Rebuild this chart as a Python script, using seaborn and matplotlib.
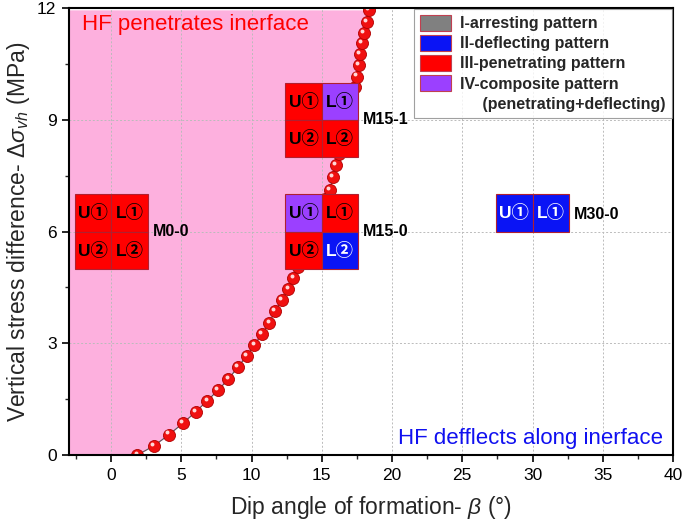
import matplotlib
matplotlib.use("Agg")
import matplotlib.pyplot as plt
import matplotlib.transforms as mtransforms
from matplotlib.patches import Patch
import seaborn as sns
import pandas as pd

# ---------------- data ----------------
beta = [1.87, 3.06, 4.13, 5.10, 6.02, 6.85, 7.61, 8.35, 9.00, 9.65, 10.20, 10.72,
        11.27, 11.67, 12.15, 12.62, 12.98, 13.30, 13.62, 13.93, 14.24, 14.55, 14.88,
        15.22, 15.55, 15.80, 15.98, 16.20, 16.40, 16.60, 16.80, 16.98, 17.15, 17.33,
        17.50, 17.66, 17.73, 17.86, 17.98, 18.20, 18.33]
stress = [0.00, 0.25, 0.55, 0.85, 1.16, 1.46, 1.74, 2.04, 2.35, 2.66, 2.95, 3.25,
          3.55, 3.87, 4.16, 4.46, 4.76, 5.06, 5.36, 5.66, 5.96, 6.26, 6.56,
          6.86, 7.11, 7.47, 7.78, 8.08, 8.38, 8.68, 8.98, 9.28, 9.58, 9.88,
          10.16, 10.47, 10.77, 11.05, 11.32, 11.63, 11.95]

# experiment cells: sample, dip angle, stress level (row bottom), cell label, pattern, side
cell_sample = ["M0-0", "M0-0", "M0-0", "M0-0",
               "M15-1", "M15-1", "M15-1", "M15-1",
               "M15-0", "M15-0", "M15-0", "M15-0",
               "M30-0", "M30-0"]
cell_dip = [0, 0, 0, 0, 15, 15, 15, 15, 15, 15, 15, 15, 30, 30]
cell_side = ["U", "L", "U", "L", "U", "L", "U", "L", "U", "L", "U", "L", "U", "L"]
cell_row_bottom = [6, 6, 5, 5, 9, 9, 8, 8, 6, 6, 5, 5, 6, 6]
cell_label = ["U①", "L①", "U②", "L②", "U①", "L①", "U②", "L②",
              "U①", "L①", "U②", "L②", "U①", "L①"]
cell_pattern = ["III", "III", "III", "III", "III", "IV", "III", "III",
                "IV", "III", "III", "II", "II", "II"]

sample_names = ["M0-0", "M15-1", "M15-0", "M30-0"]
sample_dip = [0, 15, 15, 30]
sample_stress = [6, 9, 6, 6.45]

legend_labels = ["I-arresting pattern", "II-deflecting pattern",
                 "III-penetrating pattern", "IV-composite pattern"]
legend_patterns = ["I", "II", "III", "IV"]

# ---------------- style ----------------
sns.set_theme(style="ticks")
plt.rcParams["font.family"] = ["Liberation Sans", "Noto Sans CJK SC", "DejaVu Sans"]
plt.rcParams["mathtext.fontset"] = "custom"
plt.rcParams["mathtext.rm"] = "Liberation Sans"
plt.rcParams["mathtext.it"] = "Liberation Sans:italic"
plt.rcParams["mathtext.bf"] = "Liberation Sans:bold"

pattern_color = {"I": "#808080", "II": "#0A14F5", "III": "#FF0000", "IV": "#9B40FF"}
text_color = {"I": "black", "II": "white", "III": "black", "IV": "black"}
pink = "#FDB0DE"
cell_w = 2.6

fig = plt.figure(figsize=(6.85, 5.27), dpi=100)
ax = fig.add_axes([69 / 685, 1 - 455 / 527, (673 - 69) / 685, (455 - 8) / 527])

# pink region (penetration zone)
ax.fill_betweenx(stress, -3, beta, color=pink, linewidth=0, zorder=0.2)

# boundary line + spheres
df = pd.DataFrame({"beta": beta, "stress": stress})
sns.lineplot(data=df, x="beta", y="stress", sort=False, color="#555555",
             linewidth=0.8, ax=ax, zorder=1.8)
sns.scatterplot(data=df, x="beta", y="stress", s=75, color="#F01010",
                edgecolor="#B00000", linewidth=0.6, ax=ax, zorder=2, legend=False)
hl = mtransforms.offset_copy(ax.transData, fig=fig, x=-1.3, y=1.5, units="points")
ax.scatter(df["beta"], df["stress"], s=8, color="#FFD8D8", linewidth=0,
           transform=hl, zorder=2.1)

# experiment cells
for smp, dip, side, yb, lab, pat in zip(cell_sample, cell_dip, cell_side,
                                        cell_row_bottom, cell_label, cell_pattern):
    xc = dip - cell_w / 2 if side == "U" else dip + cell_w / 2
    ax.bar(xc, 1, width=cell_w, bottom=yb, color=pattern_color[pat],
           edgecolor="#B02030", linewidth=0.8, zorder=3)
    ax.text(xc, yb + 0.5, lab, ha="center", va="center", fontsize=12.5,
            fontweight="bold", color=text_color[pat], zorder=4)

for name, dip, s in zip(sample_names, sample_dip, sample_stress):
    ax.text(dip + cell_w + 0.35, s, name, ha="left", va="center", fontsize=11.5,
            fontweight="bold", color="black", zorder=4)

# region annotations
ax.text(-2.1, 11.55, "HF penetrates inerface", color="#FF0000", fontsize=16,
        ha="left", va="center", zorder=4)
ax.text(39.3, 0.45, "HF defflects along inerface", color="#1010F0", fontsize=16,
        ha="right", va="center", zorder=4)

# axes
ax.set_xlim(-3, 40)
ax.set_ylim(0, 12)
ax.set_xticks([0, 5, 10, 15, 20, 25, 30, 35, 40])
ax.set_yticks([0, 3, 6, 9, 12])
ax.set_xticks([-2.5, 2.5, 7.5, 12.5, 17.5, 22.5, 27.5, 32.5, 37.5], minor=True)
ax.set_yticks([1.5, 4.5, 7.5, 10.5], minor=True)
ax.tick_params(axis="both", which="major", direction="out", length=5, width=1.2,
               labelsize=12.5, colors="black", pad=4)
ax.tick_params(axis="both", which="minor", direction="out", length=3, width=1.0)
ax.set_axisbelow(True)
ax.grid(True, which="major", color="#BBBBBB", linestyle=(0, (2, 2)), linewidth=0.7)
for sp in ax.spines.values():
    sp.set_visible(True)
    sp.set_color("black")
    sp.set_linewidth(1.5)

ax.set_xlabel(r"Dip angle of formation- $\beta$ (°)", fontsize=16.5, labelpad=8)
ax.set_ylabel(r"Vertical stress difference- $\Delta\sigma_{vh}$ (MPa)", fontsize=16.5,
              labelpad=4)

# legend
handles = [Patch(facecolor=pattern_color[p], edgecolor="#C04050", linewidth=0.8)
           for p in legend_patterns]
labels = list(legend_labels)
handles.append(Patch(facecolor="none", edgecolor="none"))
labels.append("     (penetrating+deflecting)")
leg = ax.legend(handles, labels, loc="upper right", borderaxespad=0.05,
                prop={"weight": "bold", "size": 11.5}, frameon=True, fancybox=False,
                handlelength=1.9, handleheight=1.1, labelspacing=0.25,
                handletextpad=0.6, borderpad=0.4)
leg.get_frame().set_edgecolor("#888888")
leg.get_frame().set_linewidth(0.8)
leg.set_zorder(5)

fig.savefig("out.png", dpi=100)
